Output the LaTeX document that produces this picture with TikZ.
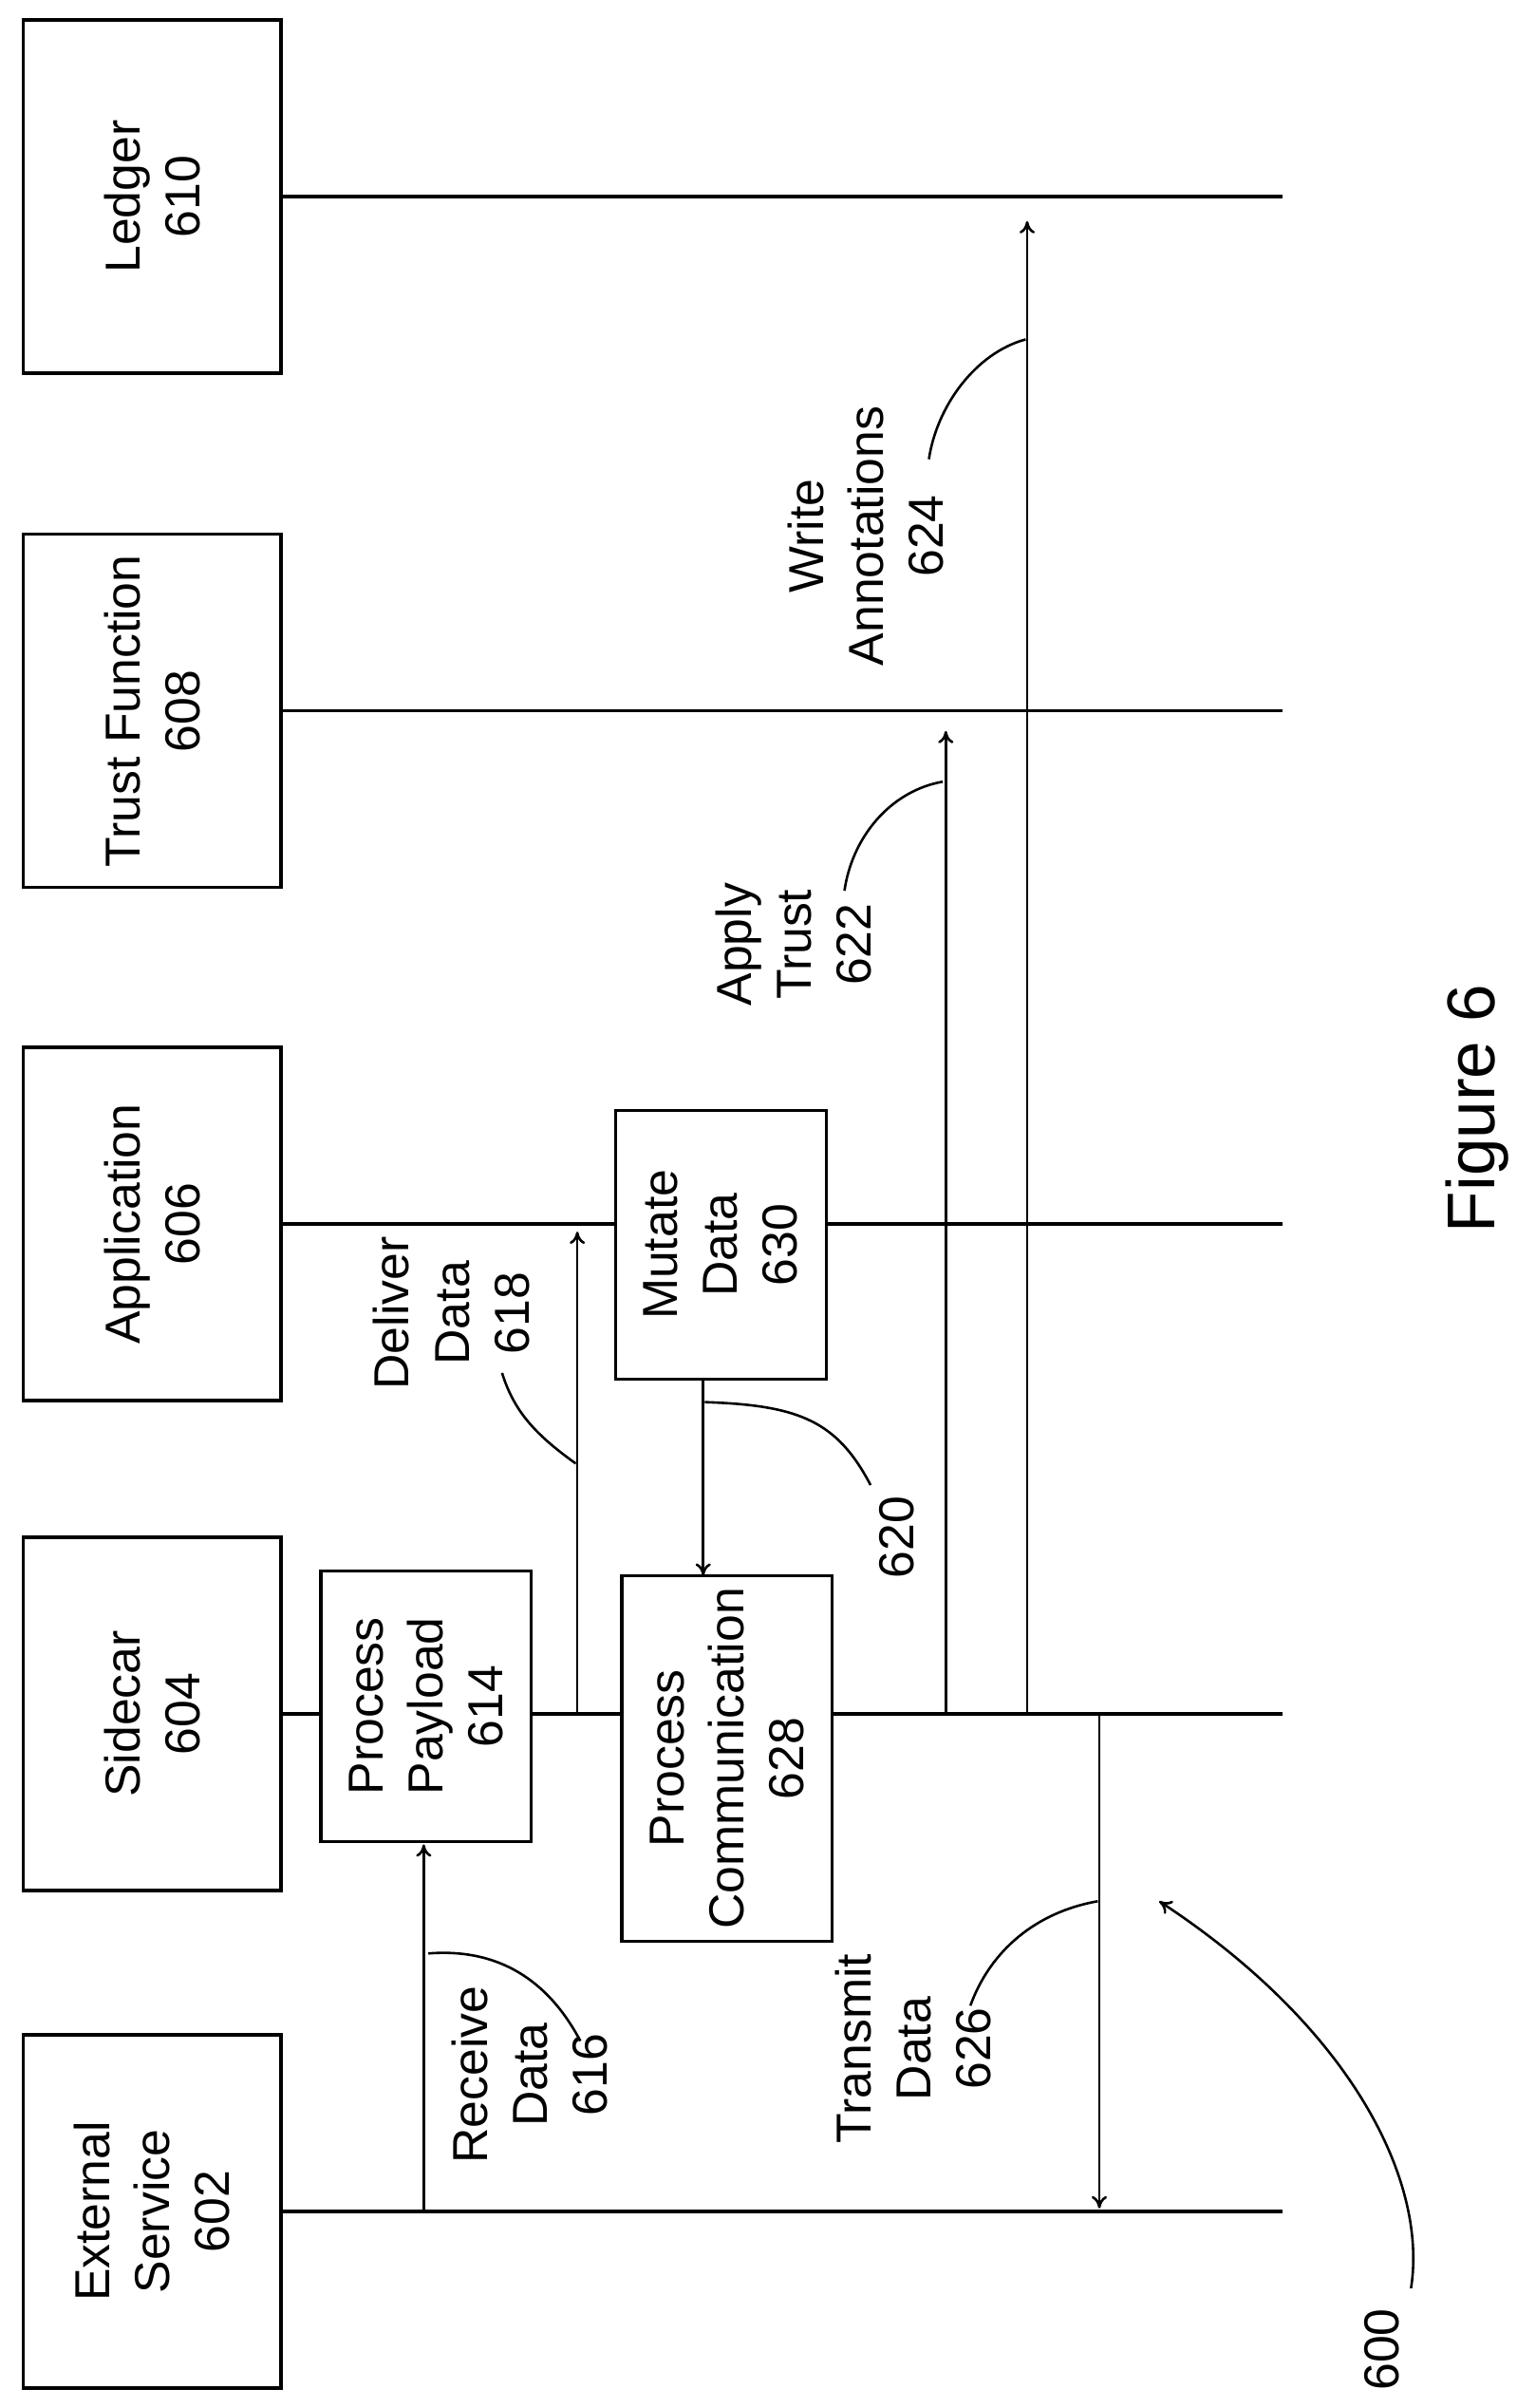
\documentclass[tikz,border=0pt]{standalone}
\usepackage{fontspec}
\setmainfont{Liberation Sans}
\usetikzlibrary{arrows.meta}
\begin{document}
\begin{tikzpicture}[x=0.5pt,y=-0.5pt,
  ln/.style={line width=1pt},
  arr/.style={line width=0.8pt,-{To[length=4pt,width=5pt]}},
  lead/.style={line width=0.8pt},
  box/.style={draw,line width=1pt,rotate=90,align=center,inner sep=0pt,font=\fontsize{16}{19.5}\selectfont},
  lbl/.style={rotate=90,align=center,inner sep=0pt,font=\fontsize{16}{19.5}\selectfont}]
\useasboundingbox (0,0) rectangle (1000,1568);
% lifeline boxes (rotated: width = vertical extent)
\node[box,minimum width=115pt,minimum height=84pt] (led) at (99,128) {Ledger\\610};
\node[box,minimum width=115pt,minimum height=84pt] (tru) at (99,463) {Trust Function\\608};
\node[box,minimum width=115pt,minimum height=84pt] (app) at (99,797) {Application\\606};
\node[box,minimum width=115pt,minimum height=84pt] (sid) at (99,1116) {Sidecar\\604};
\node[box,minimum width=115pt,minimum height=84pt] (ext) at (99,1440) {External\\Service\\602};
% process boxes
\node[box,minimum width=88pt,minimum height=68.5pt] (pay) at (277.5,1111) {Process\\Payload\\614};
\node[box,minimum width=119pt,minimum height=68.5pt] (com) at (473.5,1145) {Process\\Communication\\628};
\node[box,minimum width=87.5pt,minimum height=68.5pt] (mut) at (469.5,810.5) {Mutate\\Data\\630};
% coordinates
\coordinate (ledE) at (835,128);
\coordinate (truE) at (835,463);
\coordinate (appE) at (835,797);
\coordinate (sidE) at (835,1116);
\coordinate (extE) at (835,1440);
% lifelines
\draw[ln] (led.south) -- (ledE);
\draw[ln] (tru.south) -- (truE);
\draw[ln] (app.south) -- (app.south -| mut.north);
\draw[ln] (app.south -| mut.south) -- (appE);
\draw[ln] (sid.south) -- (sid.south -| pay.north);
\draw[ln] (sid.south -| pay.south) -- (sid.south -| com.north);
\draw[ln] (sid.south -| com.south) -- (sidE);
\draw[ln] (ext.south) -- (extE);
% message arrows
\coordinate (r0) at (276,1440); \coordinate (r1) at (276,1201);
\coordinate (d0) at (376,1116); \coordinate (d1) at (376,802);
\coordinate (m0) at (458,898);  \coordinate (m1) at (458,1026);
\coordinate (a0) at (616,1116); \coordinate (a1) at (616,476);
\coordinate (w0) at (669,1116); \coordinate (w1) at (669,144);
\coordinate (t0) at (716,1116); \coordinate (t1) at (716,1438);
\draw[arr] (r0) -- (r1);
\draw[arr] (d0) -- (d1);
\draw[arr] (m0) -- (m1);
\draw[arr] (a0) -- (a1);
\draw[arr] (w0) -- (w1);
\draw[arr] (t0) -- (t1);
% labels
\node[lbl] (l616) at (345,1351) {Receive\\Data\\616};
\node[lbl] (l618) at (294,855) {Deliver\\Data\\618};
\node[lbl] (l620) at (584,1001) {620};
\node[lbl] (l622) at (517,615) {Apply\\Trust\\622};
\node[lbl] (l624) at (564,349) {Write\\Annotations\\624};
\node[lbl] (l626) at (595,1334) {Transmit\\Data\\626};
\node[lbl] (l600) at (900,1530) {600};
\node[rotate=90,inner sep=0pt,font=\fontsize{22}{26}\selectfont] (fig) at (962,722) {Figure 6};
% leaders
\coordinate (k616a) at (279,1272); \coordinate (k616b) at (378,1329);
\coordinate (k618a) at (375,953);  \coordinate (k618b) at (327,894);
\coordinate (k620a) at (459,913);  \coordinate (k620b) at (567,967);
\coordinate (k622a) at (614,509);  \coordinate (k622b) at (550,580);
\coordinate (k624a) at (668,221);  \coordinate (k624b) at (605,299);
\coordinate (k626a) at (715,1238); \coordinate (k626b) at (632,1306);
\coordinate (k600a) at (919,1490); \coordinate (k600b) at (755,1238);
\draw[lead] (k616a) .. controls (330,1268) and (360,1295) .. (k616b);
\draw[lead] (k618a) .. controls (350,935) and (335,920) .. (k618b);
\draw[lead] (k620a) .. controls (520,915) and (545,925) .. (k620b);
\draw[lead] (k622a) .. controls (580,515) and (555,545) .. (k622b);
\draw[lead] (k624a) .. controls (635,230) and (610,265) .. (k624b);
\draw[lead] (k626a) .. controls (675,1245) and (645,1270) .. (k626b);
\draw[arr] (k600a) .. controls (930,1420) and (880,1320) .. (k600b);
\end{tikzpicture}
\end{document}
